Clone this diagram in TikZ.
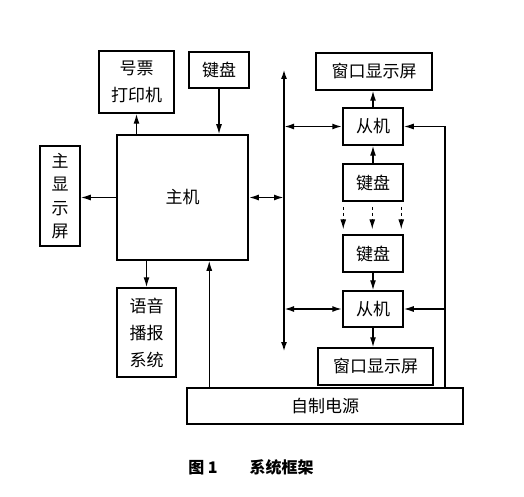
\documentclass[tikz,border=0pt]{standalone}
\usepackage{fontspec}
\setmainfont{Noto Sans CJK SC}
\usetikzlibrary{arrows.meta}
\newcommand\boxfont{\fontsize{17}{27}\selectfont}
\newcommand\vertfont{\fontsize{17}{23.5}\selectfont}
\newcommand\capfont{\fontsize{16}{20}\selectfont\bfseries}
\begin{document}
\begin{tikzpicture}[x=1pt, y=-1pt, >={Latex[length=10pt,width=6pt]}]
  % Styles du schéma
  \tikzset{
    block/.style={draw, line width=1.5pt, inner sep=0pt, align=center, font=\boxfont},
    arr/.style={->, line width=1.3pt},
    dblarr/.style={<->, line width=1.8pt},
    busline/.style={<->, line width=2.8pt},
    dasharr/.style={->, dashed, line width=1.1pt, shorten <=5pt, shorten >=5pt},
    caption/.style={font=\capfont}
  }

  % Cadre de l'image
  \useasboundingbox (0,0) rectangle (524,497);

  % --- Partie gauche : le poste principal ---
  \node[block, minimum width=131pt, minimum height=125pt] (host) at (182.5,197.5) {主机};
  \node[block, minimum width=75pt, minimum height=62pt] (printer) at (136.5,82) {号票\\打印机};
  \node[block, minimum width=60pt, minimum height=36pt] (kbd0) at (219,70) {键盘};
  \node[block, minimum width=40pt, minimum height=100pt, font=\vertfont] (mainscr) at (60,196) {主\\显\\示\\屏};
  \node[block, minimum width=59pt, minimum height=89pt] (voice) at (146.5,332.5) {语音\\播报\\系统};

  % --- Partie droite : les postes esclaves ---
  \node[block, minimum width=116pt, minimum height=37pt] (win1) at (374,71.5) {窗口显示屏};
  \node[block, minimum width=60pt, minimum height=37pt] (slave1) at (373,126.5) {从机};
  \node[block, minimum width=60pt, minimum height=37pt] (kbd1) at (373,182.5) {键盘};
  \node[block, minimum width=60pt, minimum height=37pt] (kbd2) at (373,253.5) {键盘};
  \node[block, minimum width=60pt, minimum height=36pt] (slave2) at (373,309) {从机};
  \node[block, minimum width=115pt, minimum height=37pt] (win2) at (375.5,366.5) {窗口显示屏};

  % Alimentation
  \node[block, minimum width=276pt, minimum height=36pt] (power) at (325,406) {自制电源};

  % Bus vertical
  \coordinate (bustop) at (284,69);
  \coordinate (busbot) at (284,352);
  \draw[busline] (busbot) -- (bustop);

  % --- Liaisons du poste principal ---
  \draw[arr] (host.west) -- (host.west -| mainscr.east);
  \draw[arr] (host.north -| printer) -- (printer.south);
  \draw[arr] (kbd0.south) -- (kbd0.south |- host.north);
  \draw[arr] (host.south -| voice) -- (voice.north);
  \draw[dblarr] (host.east) -- (host.east -| bustop);
  \draw[arr] ([xshift=23pt]power.north west) -- ([xshift=23pt]power.north west |- host.south);

  % --- Liaisons des esclaves ---
  \draw[dblarr] (slave1.west -| bustop) -- (slave1.west);
  \draw[dblarr] (slave2.west -| bustop) -- (slave2.west);
  \draw[arr] (slave1.north) -- (slave1.north |- win1.south);
  \draw[arr] (kbd1.north) -- (slave1.south);
  \draw[arr] (kbd2.south) -- (slave2.north);
  \draw[arr] (slave2.south) -- (slave2.south |- win2.north);
  \foreach \xp in {1,30,59}
    \draw[dasharr] ([xshift=\xp pt]kbd1.south west) -- ([xshift=\xp pt]kbd2.north west);

  % Retour de l'alimentation vers les esclaves
  \coordinate (rtop) at (445,126.5);
  \draw[arr] (power.north -| rtop) -- (rtop) -- (slave1.east);
  \draw[arr] (slave2.east -| rtop) -- (slave2.east);

  % Légende
  \node[caption] (cap) at (251,467) {图 1\hspace{2em}系统框架};
\end{tikzpicture}
\end{document}
